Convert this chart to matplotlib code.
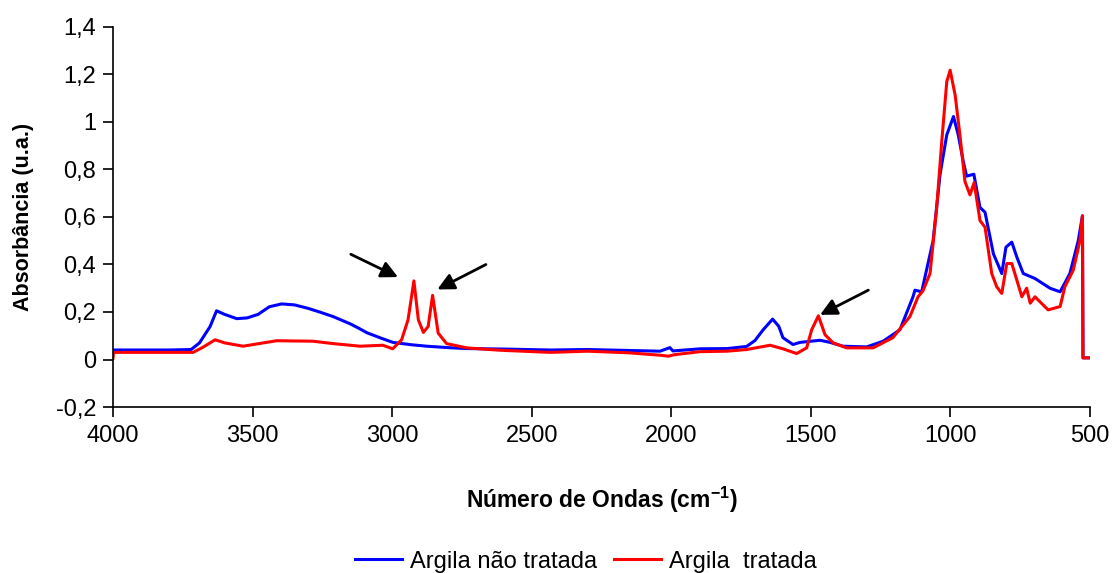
import matplotlib.pyplot as plt
from matplotlib.ticker import FuncFormatter

plt.rcParams['font.family'] = ['Liberation Sans', 'DejaVu Sans']

# wavenumber (cm-1) / absorbance
wn_blue = [4000, 3800, 3720, 3690, 3652, 3629, 3600, 3557, 3520, 3480, 3440, 3396,
           3350, 3300, 3260, 3212, 3150, 3120, 3091, 3040, 2997, 2930, 2876, 2800,
           2733, 2600, 2434, 2300, 2150, 2040, 2005, 1994, 1897, 1800, 1730, 1700,
           1671, 1637, 1615, 1600, 1564, 1539, 1467, 1431, 1385, 1300, 1241, 1181,
           1134, 1127, 1103, 1062, 1037, 1013, 989, 972, 954, 942, 916, 894, 876,
           846, 816, 801, 780, 762, 739, 697, 643, 607, 572, 542, 527, 525, 500]
ab_blue = [0.040, 0.040, 0.042, 0.070, 0.139, 0.205, 0.190, 0.172, 0.175, 0.190, 0.222, 0.234,
           0.230, 0.215, 0.200, 0.181, 0.150, 0.132, 0.113, 0.090, 0.072, 0.062, 0.056, 0.050,
           0.046, 0.044, 0.040, 0.042, 0.038, 0.035, 0.050, 0.036, 0.045, 0.046, 0.055, 0.080,
           0.125, 0.170, 0.140, 0.092, 0.063, 0.072, 0.081, 0.072, 0.056, 0.053, 0.077, 0.125,
           0.264, 0.292, 0.285, 0.500, 0.780, 0.946, 1.023, 0.946, 0.835, 0.772, 0.780, 0.640,
           0.620, 0.445, 0.362, 0.473, 0.494, 0.431, 0.362, 0.341, 0.300, 0.285, 0.362, 0.500,
           0.605, 0.007, 0.007]

wn_red = [4000, 3998, 3800, 3713, 3680, 3634, 3600, 3534, 3414, 3283, 3212, 3115,
          3033, 2998, 2966, 2943, 2922, 2906, 2888, 2871, 2855, 2835, 2805, 2733,
          2614, 2434, 2300, 2150, 2040, 2010, 1990, 1897, 1800, 1730, 1646, 1600,
          1551, 1515, 1497, 1473, 1449, 1420, 1372, 1277, 1206, 1145, 1116, 1098,
          1073, 1049, 1031, 1013, 1001, 983, 966, 948, 930, 915, 894, 876, 852,
          834, 816, 798, 780, 762, 744, 727, 714, 697, 650, 607, 590, 560, 536,
          527, 525, 500]
ab_red = [0.005, 0.030, 0.030, 0.030, 0.050, 0.083, 0.070, 0.056, 0.079, 0.077, 0.067, 0.056,
          0.060, 0.045, 0.083, 0.167, 0.331, 0.167, 0.114, 0.139, 0.270, 0.111, 0.067, 0.049,
          0.039, 0.030, 0.035, 0.028, 0.018, 0.014, 0.020, 0.033, 0.035, 0.042, 0.060, 0.045,
          0.025, 0.049, 0.125, 0.184, 0.104, 0.070, 0.049, 0.049, 0.092, 0.181, 0.264, 0.290,
          0.362, 0.640, 0.918, 1.170, 1.218, 1.113, 0.946, 0.750, 0.693, 0.745, 0.585, 0.557,
          0.362, 0.306, 0.278, 0.404, 0.404, 0.334, 0.264, 0.300, 0.237, 0.264, 0.209, 0.223,
          0.306, 0.376, 0.500, 0.605, 0.007, 0.007]

# arrows pointing at the new bands: (tail, tip)
arrows = [((3148, 0.443), (2979, 0.347)),
          ((2664, 0.400), (2838, 0.295)),
          ((1294, 0.292), (1467, 0.188))]

yticks = [-0.2, 0, 0.2, 0.4, 0.6, 0.8, 1, 1.2, 1.4]
xticks = [4000, 3500, 3000, 2500, 2000, 1500, 1000, 500]


def comma(v, pos):
    s = ('%.1f' % v).rstrip('0').rstrip('.')
    if s == '-0':
        s = '0'
    return s.replace('.', ',')


fig = plt.figure(figsize=(11.12, 5.73), dpi=100)
ax = fig.add_axes([0.1016, 0.2897, 0.8786, 0.6632])

ax.plot(wn_blue, ab_blue, color='#0000ff', lw=2.2, label='Argila não tratada')
ax.plot(wn_red, ab_red, color='#ff0000', lw=2.2, label='Argila  tratada')

for tail, tip in arrows:
    ax.annotate('', xy=tip, xytext=tail,
                arrowprops=dict(arrowstyle='-|>', color='black', lw=2, mutation_scale=25,
                                shrinkA=0, shrinkB=0))

ax.set_xlim(4000, 500)
ax.set_ylim(-0.2, 1.4)
ax.set_xticks(xticks)
ax.set_yticks(yticks)
ax.yaxis.set_major_formatter(FuncFormatter(comma))
ax.tick_params(direction='out', length=7, width=1.2, labelsize=17, colors='black')
ax.tick_params(axis='x', pad=6)
ax.tick_params(axis='y', pad=5)
for side in ['top', 'right']:
    ax.spines[side].set_visible(False)
for side in ['left', 'bottom']:
    ax.spines[side].set_linewidth(1.2)

ax.set_xlabel('Número de Ondas (cm$^{\\mathregular{-1}}$)', fontsize=16.5, fontweight='bold', labelpad=27)
ax.set_ylabel('Absorbância (u.a.)', fontsize=15.5, fontweight='bold', labelpad=16)

fig.legend(loc='center', bbox_to_anchor=(0.527, 0.02), ncol=2, frameon=False,
           fontsize=17, handlelength=2.0, columnspacing=0.7, handletextpad=0.35,
           borderaxespad=0, borderpad=0)

fig.savefig('out.png', dpi=100)
